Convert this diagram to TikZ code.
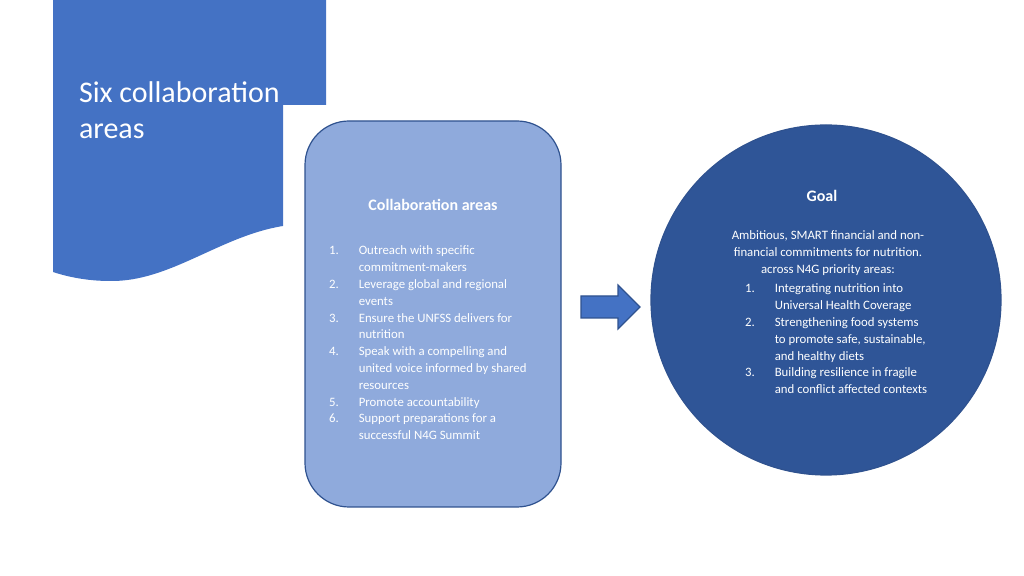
\documentclass[tikz,border=0pt]{standalone}
\usepackage{fontspec}
\setmainfont{Carlito}
\definecolor{bannerblue}{HTML}{4472C4}
\definecolor{boxblue}{HTML}{8FAADC}
\definecolor{edgeblue}{HTML}{2F528F}
\definecolor{goalblue}{HTML}{2F5597}
\begin{document}
\begin{tikzpicture}[
        x=0.5pt, y=-0.5pt,
        areabox/.style={fill=boxblue, draw=edgeblue, line width=0.6pt, rounded corners=22pt},
        goal/.style={circle, fill=goalblue, draw=edgeblue, line width=0.6pt, minimum size=175pt},
        bodytext/.style={text=white, font=\fontsize{6.4}{8.4}\selectfont, align=left}
    ]
    \useasboundingbox (0,0) rectangle (1024,576);
    % banner
    \fill[bannerblue] (53,0) -- (326,0) -- (326,105) -- (283,105) -- (283,226)
        .. controls (220,236) and (170,282) .. (110,281)
        .. controls (85,281) and (65,276) .. (53,272) -- cycle;
    \node[anchor=north west, text=white, font=\fontsize{15}{18}\selectfont, align=left]
        (title) at (72,75) {Six collaboration\\areas};
    % collaboration areas box
    \draw[areabox] (305,121) rectangle (561,507);
    \node[text=white, font=\bfseries\fontsize{8}{10}\selectfont] (areahead) at (433,205) {Collaboration areas};
    \node[bodytext, anchor=north west] (arealist) at (322,236) {%
        \begin{tabular}{@{}l@{\hspace{10pt}}l@{}}
        1. & Outreach with specific\\ & commitment-makers\\
        2. & Leverage global and regional\\ & events\\
        3. & Ensure the UNFSS delivers for\\ & nutrition\\
        4. & Speak with a compelling and\\ & united voice informed by shared\\ & resources\\
        5. & Promote accountability\\
        6. & Support preparations for a\\ & successful N4G Summit
        \end{tabular}};
    % arrow
    \draw[fill=bannerblue, draw=edgeblue, line width=0.6pt]
        (581,296) -- (618,296) -- (618,285) -- (640,307) -- (618,329) -- (618,318) -- (581,318) -- cycle;
    % goal circle
    \node[goal] (goalcircle) at (826,300) {};
    \node[text=white, font=\bfseries\fontsize{8}{10}\selectfont] (goalhead) at (822,196) {Goal};
    \node[bodytext, align=center, anchor=north] (goalintro) at (828,224) {%
        Ambitious, SMART financial and non-\\financial commitments for nutrition.\\across N4G priority areas:};
    \node[bodytext, anchor=north west] (goallist) at (738,274) {%
        \begin{tabular}{@{}l@{\hspace{10pt}}l@{}}
        1. & Integrating nutrition into\\ & Universal Health Coverage\\
        2. & Strengthening food systems\\ & to promote safe, sustainable,\\ & and healthy diets\\
        3. & Building resilience in fragile\\ & and conflict affected contexts
        \end{tabular}};
\end{tikzpicture}
\end{document}
